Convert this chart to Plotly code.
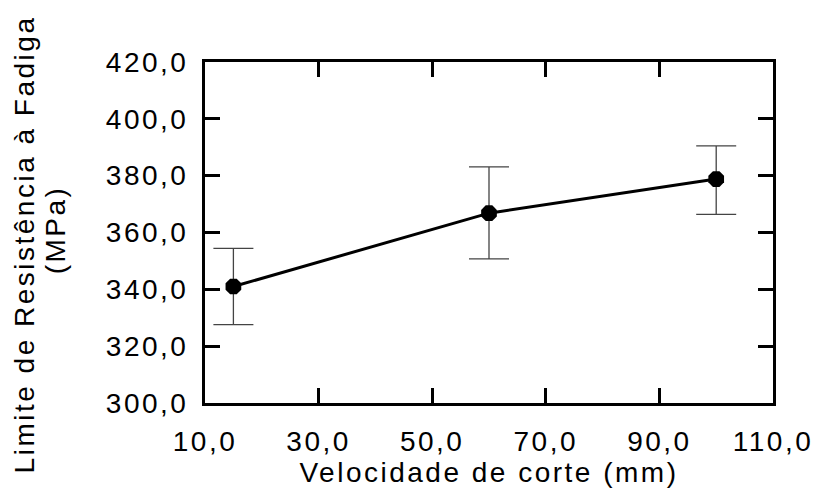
import plotly.graph_objects as go

velocidade = [15, 60, 100]
limite = [341.0, 366.8, 378.8]
erro_sup = [13.4, 16.3, 11.7]
erro_inf = [13.4, 16.1, 12.4]

x_ticks = [10, 30, 50, 70, 90, 110]
y_ticks = [300, 320, 340, 360, 380, 400, 420]

titulo_x = "Velocidade de corte (mm)"
titulo_y1 = "Limite de Resistência à Fadiga"
titulo_y2 = "(MPa)"

FONT = "Liberation Sans, Arial, sans-serif"
FS = 28

fig = go.Figure()
fig.add_trace(go.Scatter(
    x=velocidade, y=limite, mode="lines+markers",
    line=dict(color="black", width=3),
    marker=dict(symbol="octagon", size=17, color="black"),
    error_y=dict(type="data", symmetric=False, array=erro_sup, arrayminus=erro_inf,
                 color="#444444", thickness=1.3, width=20),
    showlegend=False,
))

axis_common = dict(
    ticks="inside", ticklen=15, tickwidth=2.5, tickcolor="black",
    showline=True, linewidth=3, linecolor="black", mirror="ticks",
    showgrid=False, zeroline=False, tickformat=".1f",
    tickfont=dict(family=FONT, size=FS, color="black"),
)

fig.update_xaxes(range=[10, 110], tickvals=x_ticks, ticklabelstandoff=11,
                 title=dict(text=titulo_x, font=dict(family=FONT, size=FS, color="black"), standoff=5),
                 **axis_common)
fig.update_yaxes(range=[300, 420], tickvals=y_ticks, ticklabelstandoff=8,
                 **axis_common)

fig.add_annotation(text=titulo_y1, xref="paper", yref="paper", x=0, y=0.4636,
                   xanchor="center", yanchor="middle", xshift=-180, textangle=-90,
                   showarrow=False, font=dict(family=FONT, size=FS, color="black"))
fig.add_annotation(text=titulo_y2, xref="paper", yref="paper", x=0, y=0.507,
                   xanchor="center", yanchor="middle", xshift=-150, textangle=-90,
                   showarrow=False, font=dict(family=FONT, size=FS, color="black"))

fig.update_layout(
    width=819, height=493,
    margin=dict(l=205, r=44, t=62, b=88),
    plot_bgcolor="white", paper_bgcolor="white",
    separators=",.",
    font=dict(family=FONT, color="black"),
)

spacing_js = """
var gd = document.getElementById('{plot_id}');
function spaceText(){
  gd.querySelectorAll('text').forEach(function(t){ t.style.letterSpacing = '2.5px'; });
}
spaceText();
gd.on('plotly_afterplot', spaceText);
"""

fig.write_html("out.html", post_script=spacing_js)
